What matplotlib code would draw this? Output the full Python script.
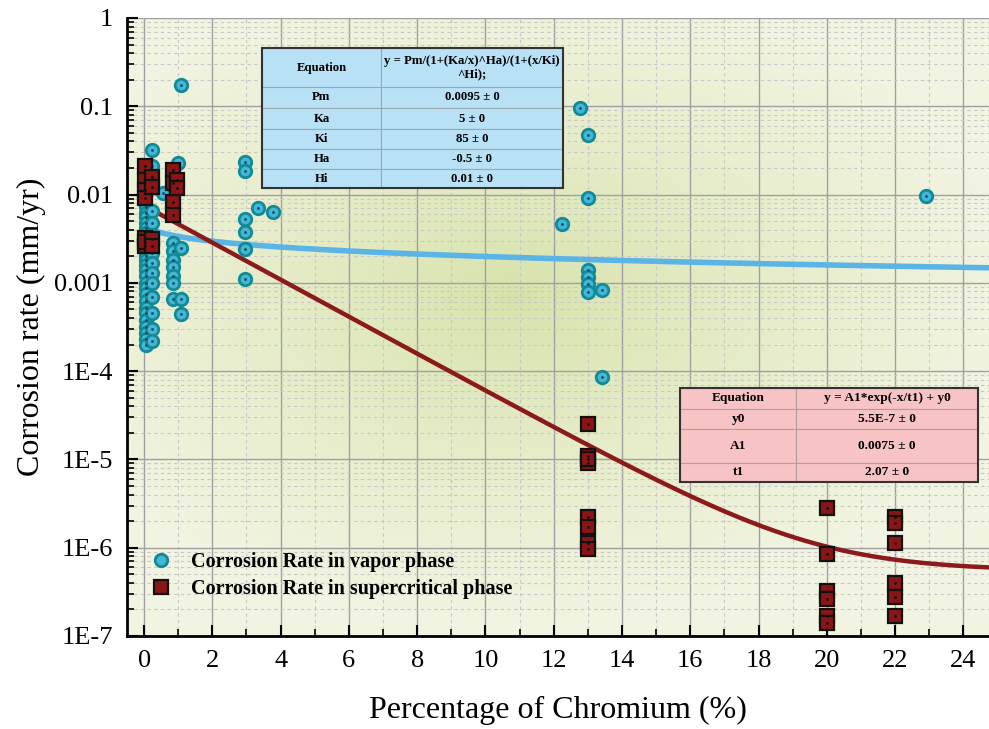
import numpy as np
import matplotlib
matplotlib.use("Agg")
import matplotlib.pyplot as plt
from matplotlib.ticker import FixedLocator, FixedFormatter, MultipleLocator, LogLocator, NullFormatter

plt.rcParams['font.family'] = ['Liberation Serif', 'DejaVu Serif']

# vapor phase data (x = Cr %, y = corrosion rate mm/yr)
vapor_x = [0.05] * 26 + [0.22] * 14 + [0.56, 1.07, 1.0] + [0.84] * 7 + [1.07] * 3 \
    + [2.96] * 6 + [3.33, 3.77] + [12.78, 13.0, 13.0, 12.25, 13.0, 13.0, 13.0, 13.0, 13.4, 13.4] + [22.9]
vapor_y = [0.0072, 0.0062, 0.0055, 0.0048, 0.0042, 0.0037, 0.0033, 0.0029, 0.0026, 0.0023,
           0.002, 0.0018, 0.0016, 0.0014, 0.0012, 0.001, 0.00088, 0.00075, 0.00063, 0.00052,
           0.00045, 0.00038, 0.00032, 0.00027, 0.00023, 0.0002,
           0.032, 0.021, 0.0065, 0.0048, 0.0035, 0.0028, 0.0022, 0.0017, 0.0013, 0.001,
           0.0007, 0.00045, 0.0003, 0.00022,
           0.0104, 0.174, 0.023,
           0.0028, 0.0023, 0.0018, 0.0015, 0.0012, 0.001, 0.00065,
           0.0025, 0.00065, 0.00044,
           0.0236, 0.0183, 0.0053, 0.0038, 0.0024, 0.0011,
           0.0071, 0.0064,
           0.095, 0.047, 0.0091, 0.0047, 0.0014, 0.00118, 0.00098, 0.00079, 0.00083, 8.5e-5,
           0.0096]

# supercritical phase data
super_x = [0.03] * 7 + [0.22] * 4 + [0.85] * 4 + [0.97] * 2 + [13.0] * 8 + [20.0] * 6 + [22.0] * 6
super_y = [0.021, 0.0146, 0.0113, 0.0091, 0.0032, 0.0026, 0.0029,
           0.016, 0.0123, 0.0031, 0.0026,
           0.019, 0.0135, 0.0083, 0.0059,
           0.0146, 0.0119,
           2.5e-5, 1.1e-5, 9.1e-6, 2.2e-6, 1.7e-6, 1.13e-6, 9.7e-7, 1.0e-5,
           2.8e-6, 8.5e-7, 3.2e-7, 2.6e-7, 1.7e-7, 1.4e-7,
           2.2e-6, 1.9e-6, 1.12e-6, 4.0e-7, 2.8e-7, 1.7e-7]

# fit parameters
Pm, Ka, Ki, Ha, Hi = 0.0095, 5, 85, -0.5, 0.01
y0, A1, t1 = 5.5e-7, 0.0075, 2.07

ytick_vals = [1, 0.1, 0.01, 0.001, 1e-4, 1e-5, 1e-6, 1e-7]
ytick_labels = ['1', '0.1', '0.01', '0.001', '1E-4', '1E-5', '1E-6', '1E-7']

fig = plt.figure(figsize=(9.89, 7.29), dpi=100)
ax = fig.add_axes([127 / 989, 93 / 729, 862 / 989, 618 / 729])

# background radial gradient
gx, gy = np.meshgrid(np.linspace(0, 1, 300), np.linspace(0, 1, 300))
r = np.sqrt(((gx - 0.45) / 0.6) ** 2 + ((gy - 0.55) / 0.55) ** 2)
t = np.clip(r, 0, 1)[..., None] ** 0.8
inner = np.array([0.84, 0.885, 0.66])
outer = np.array([0.95, 0.96, 0.89])
img = inner * (1 - t) + outer * t
ax.imshow(img, extent=(0, 1, 0, 1), transform=ax.transAxes, aspect='auto', zorder=0, origin='lower')

ax.set_yscale('log')
ax.set_xlim(-0.5, 24.75)
ax.set_ylim(1e-7, 1)

# grid
ax.xaxis.set_major_locator(MultipleLocator(2))
ax.xaxis.set_minor_locator(MultipleLocator(1))
ax.yaxis.set_major_locator(FixedLocator(ytick_vals))
ax.yaxis.set_major_formatter(FixedFormatter(ytick_labels))
ax.yaxis.set_minor_locator(LogLocator(base=10, subs=np.arange(2, 10)))
ax.yaxis.set_minor_formatter(NullFormatter())
ax.grid(which='major', color='#a0a0a0', linewidth=1.0, linestyle='-', zorder=1)
ax.grid(which='minor', color='#c8c8c8', linewidth=0.8, linestyle=(0, (3, 3)), zorder=1)
ax.set_axisbelow(True)

ax.tick_params(which='major', direction='in', length=8, width=1.5, labelsize=19, pad=10)
ax.tick_params(which='minor', direction='in', length=5, width=1.2)
for s in ['top', 'right']:
    ax.spines[s].set_visible(False)
for s in ['left', 'bottom']:
    ax.spines[s].set_linewidth(2)

# fitted curves
xb = np.linspace(0.08, 25, 400)
yb = Pm / (1 + (Ka / xb) ** Ha) / (1 + (xb / Ki) ** Hi)
ax.plot(xb, yb, color='#5ab4e6', linewidth=4, zorder=3, solid_capstyle='butt')
xr = np.linspace(0, 25, 400)
yr = A1 * np.exp(-xr / t1) + y0
ax.plot(xr, yr, color='#8b1a1a', linewidth=3.2, zorder=3)

# scatter points
ax.plot(vapor_x, vapor_y, 'o', ms=9, mfc='#45b5d8', mec='#128a96', mew=2, zorder=4,
        label='Corrosion Rate in vapor phase')
ax.plot(vapor_x, vapor_y, '.', ms=2, color='#0b4f58', zorder=5)
ax.plot(super_x, super_y, 's', ms=10, mfc='#8b1414', mec='#111111', mew=1.6, zorder=6,
        label='Corrosion Rate in supercritical phase')
ax.plot(super_x, super_y, '.', ms=2, color='#111111', zorder=7)

ax.set_xlabel('Percentage of Chromium (%)', fontsize=23, labelpad=17)
ax.set_ylabel('Corrosion rate (mm/yr)', fontsize=23, labelpad=6)

leg = ax.legend(loc='upper left', bbox_to_anchor=(-0.005, 0.165), frameon=False,
                prop={'weight': 'bold', 'size': 14.5}, handletextpad=0.5, labelspacing=0.35)

# blue table
blue_box = [135 / 862, (636 - 188) / 618, 301 / 862, 140 / 618]
blue_rows = [['Equation', 'y = Pm/(1+(Ka/x)^Ha)/(1+(x/Ki)\n^Hi);'],
             ['Pm', '0.0095 ± 0'], ['Ka', '5 ± 0'], ['Ki', '85 ± 0'],
             ['Ha', '-0.5 ± 0'], ['Hi', '0.01 ± 0']]
tb = ax.table(cellText=blue_rows, bbox=blue_box, colWidths=[0.395, 0.605], cellLoc='center')
tb.auto_set_font_size(False)
heights = [39, 21, 21, 20, 20, 19]
for (ri, ci), cell in tb.get_celld().items():
    cell.set_facecolor('#b9e1f6')
    cell.set_edgecolor('#9aa8b0')
    cell.set_linewidth(0.8)
    cell.get_text().set_fontsize(9.2)
    cell.get_text().set_fontweight('bold')
    cell.set_height(blue_box[3] * heights[ri] / sum(heights))
tb.set_zorder(8)

# red table
red_box = [553 / 862, (636 - 482) / 618, 298 / 862, 94 / 618]
red_rows = [['Equation', 'y = A1*exp(-x/t1) + y0'], ['y0', '5.5E-7 ± 0'],
            ['A1', '0.0075 ± 0'], ['t1', '2.07 ± 0']]
tr = ax.table(cellText=red_rows, bbox=red_box, colWidths=[0.39, 0.61], cellLoc='center')
tr.auto_set_font_size(False)
rh = [62, 60, 102, 58]
for (ri, ci), cell in tr.get_celld().items():
    cell.set_facecolor('#f7c3c5')
    cell.set_edgecolor('#b0a0a0')
    cell.set_linewidth(0.8)
    cell.get_text().set_fontsize(9.6)
    cell.get_text().set_fontweight('bold')
    cell.set_height(red_box[3] * rh[ri] / sum(rh))
tr.set_zorder(8)

# dark outer borders of tables
for bb in (blue_box, red_box):
    ax.add_patch(plt.Rectangle((bb[0], bb[1]), bb[2], bb[3], transform=ax.transAxes,
                               fill=False, edgecolor='#333333', linewidth=1.5, zorder=9))

fig.savefig('out.png', dpi=100)
